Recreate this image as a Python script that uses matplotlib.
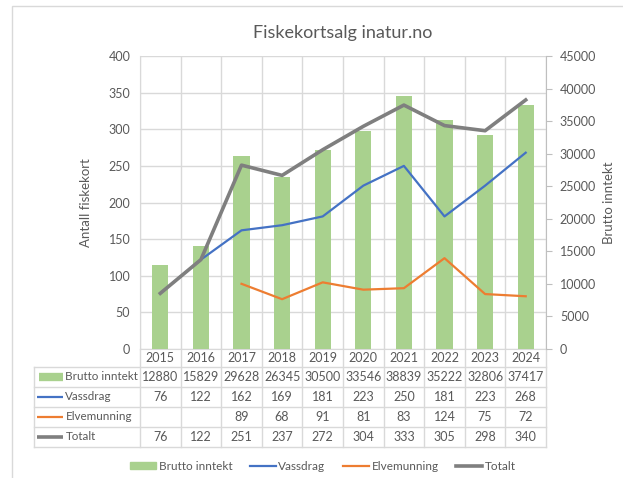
import numpy as np
import matplotlib
matplotlib.use("Agg")
import matplotlib.pyplot as plt
from matplotlib.patches import Rectangle
from matplotlib.lines import Line2D

plt.rcParams["font.family"] = ["Lato", "DejaVu Sans"]

years = ["2015", "2016", "2017", "2018", "2019", "2020", "2021", "2022", "2023", "2024"]
brutto = [12880, 15829, 29628, 26345, 30500, 33546, 38839, 35222, 32806, 37417]
vassdrag = [76, 122, 162, 169, 181, 223, 250, 181, 223, 268]
elvemunning = [np.nan, np.nan, 89, 68, 91, 81, 83, 124, 75, 72]
totalt = [76, 122, 251, 237, 272, 304, 333, 305, 298, 340]

GREEN = "#A9D18E"
BLUE = "#4472C4"
ORANGE = "#ED7D31"
GREY = "#7F7F7F"
TXT = "#595959"
GRID = "#D9D9D9"

W, H = 623, 478
fig = plt.figure(figsize=(W / 100, H / 100), dpi=100)

# plassering i piksler
L, R, T, B = 140, 546, 56, 349
pos = [L / W, 1 - B / H, (R - L) / W, (B - T) / H]

ax = fig.add_axes(pos)
ax2 = ax.twinx()
ax3 = fig.add_axes(pos, sharex=ax, sharey=ax)
ax3.axis("off")

x = np.arange(len(years))

# venstre akse: rutenett
ax.set_ylim(0, 400)
ax.set_yticks(np.arange(0, 401, 50))
ax.set_xlim(-0.5, len(years) - 0.5)
ax.set_xticks([])
ax.set_xticks(np.arange(-0.5, len(years), 1), minor=True)
ax.grid(axis="y", color=GRID, lw=1)
ax.grid(axis="x", which="minor", color=GRID, lw=1)
ax.tick_params(axis="y", length=0, pad=7, labelsize=9, labelcolor=TXT)
ax.tick_params(axis="x", which="both", length=0)
ax.set_axisbelow(True)
for s in ["top", "right"]:
    ax.spines[s].set_visible(False)
ax.spines["left"].set_color(GRID)
ax.spines["bottom"].set_color(GRID)
ax.set_ylabel("Antall fiskekort", fontsize=9.5, color=TXT, labelpad=12)

# høyre akse: søyler
ax2.bar(x, brutto, width=0.4, color=GREEN, zorder=2)
ax2.set_ylim(0, 45000)
ax2.set_yticks(np.arange(0, 45001, 5000))
ax2.tick_params(axis="y", length=4, color="#BFBFBF", pad=6, labelsize=9, labelcolor=TXT)
for s in ["top", "left", "bottom"]:
    ax2.spines[s].set_visible(False)
ax2.spines["right"].set_color("#BFBFBF")
ax2.set_ylabel("Brutto inntekt", fontsize=9.5, color=TXT, rotation=90, labelpad=5)

# linjer øverst
ax3.plot(x, vassdrag, color=BLUE, lw=1.6)
ax3.plot(x, elvemunning, color=ORANGE, lw=1.6)
ax3.plot(x, totalt, color=GREY, lw=2.6)

# tittel
fig.text((L + R) / 2 / W, 1 - 33 / H, "Fiskekortsalg inatur.no", ha="center", va="center",
         fontsize=13, color=TXT)

# datatabell under diagrammet
tr = ax.get_xaxis_transform()
hpx = B - T
def ya(ypix):
    return (B - ypix) / hpx

line_kw = dict(color=GRID, lw=1, clip_on=False, transform=tr)
label_left = -0.5 - (L - 34) / (R - L) * len(years)
# horisontale linjer
for yp in [367, 387, 407, 427, 447]:
    ax.add_line(Line2D([label_left, len(years) - 0.5], [ya(yp), ya(yp)], **line_kw))
# vertikale linjer
for xv in np.arange(-0.5, len(years), 1):
    ax.add_line(Line2D([xv, xv], [0, ya(447)], **line_kw))
ax.add_line(Line2D([label_left, label_left], [ya(367), ya(447)], **line_kw))

for i, yr in enumerate(years):
    ax.text(x[i], ya(358), yr, transform=tr, ha="center", va="center", fontsize=9, color=TXT)

rows = [("Brutto inntekt", brutto, GREEN, "bar"),
        ("Vassdrag", vassdrag, BLUE, "line"),
        ("Elvemunning", elvemunning, ORANGE, "line"),
        ("Totalt", totalt, GREY, "thick")]
row_y = [377, 397, 417, 437]
sw0 = label_left + 3 / (R - L) * len(years)
sw1 = label_left + 29 / (R - L) * len(years)
for (name, vals, col, kind), yp in zip(rows, row_y):
    yy = ya(yp)
    if kind == "bar":
        ax.add_line(Line2D([sw0 + 0.05, sw1], [yy, yy], color=col, lw=6,
                           solid_capstyle="butt", clip_on=False, transform=tr))
    else:
        ax.add_line(Line2D([sw0, sw1], [yy, yy], color=col, lw=2.6 if kind == "thick" else 1.6,
                           solid_capstyle="butt", clip_on=False, transform=tr))
    ax.text(sw1 + 0.06, yy, name, transform=tr, ha="left", va="center", fontsize=8.4, color=TXT)
    for i, v in enumerate(vals):
        if not np.isnan(v):
            ax.text(x[i], yy, f"{int(v)}", transform=tr, ha="center", va="center",
                    fontsize=9, color=TXT)

# forklaring
handles = [Rectangle((0, 0), 1, 1, color=GREEN),
           Line2D([], [], color=BLUE, lw=1.6),
           Line2D([], [], color=ORANGE, lw=1.6),
           Line2D([], [], color=GREY, lw=2.6)]
fig.legend(handles, [r[0] for r in rows], loc="center", bbox_to_anchor=(323 / W, 1 - 466 / H),
           ncol=4, frameon=False, fontsize=8.5, labelcolor=TXT, handlelength=2.2,
           handleheight=0.5, handletextpad=0.2, columnspacing=1.5)

# ramme rundt diagramområdet
fig.patches.append(Rectangle((12 / W, -0.1), 1.2, 1.1 - 6 / H, transform=fig.transFigure,
                             fill=False, edgecolor=GRID, lw=1))

fig.savefig("out.png", dpi=100)
